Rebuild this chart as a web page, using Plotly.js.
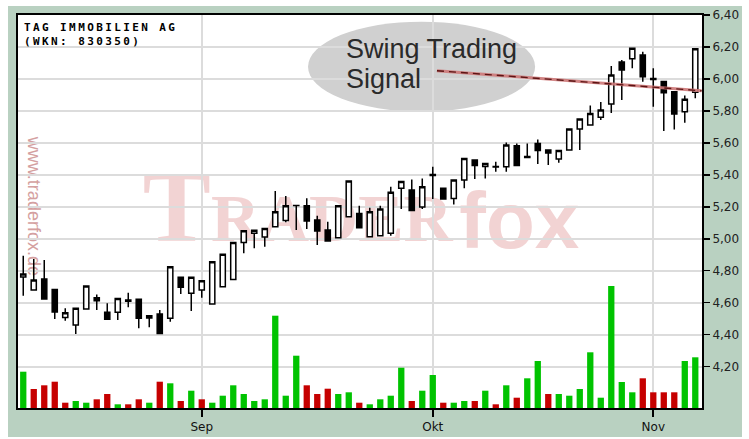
<!DOCTYPE html>
<html><head><meta charset="utf-8">
<script src="https://cdn.plot.ly/plotly-3.0.1.min.js"></script>
<style>html,body{margin:0;padding:0;background:#fff;}#chart{position:absolute;left:8px;top:6px;width:734px;height:431px;}</style>
</head><body><div id="chart"></div>
<script>
const dates = ['2010-08-09','2010-08-10','2010-08-11','2010-08-12','2010-08-13','2010-08-16','2010-08-17','2010-08-18','2010-08-19','2010-08-20',
'2010-08-23','2010-08-24','2010-08-25','2010-08-26','2010-08-27','2010-08-30','2010-08-31','2010-09-01','2010-09-02','2010-09-03',
'2010-09-06','2010-09-07','2010-09-08','2010-09-09','2010-09-10','2010-09-13','2010-09-14','2010-09-15','2010-09-16','2010-09-17',
'2010-09-20','2010-09-21','2010-09-22','2010-09-23','2010-09-24','2010-09-27','2010-09-28','2010-09-29','2010-09-30','2010-10-01',
'2010-10-04','2010-10-05','2010-10-06','2010-10-07','2010-10-08','2010-10-11','2010-10-12','2010-10-13','2010-10-14','2010-10-15',
'2010-10-18','2010-10-19','2010-10-20','2010-10-21','2010-10-22','2010-10-25','2010-10-26','2010-10-27','2010-10-28','2010-10-29',
'2010-11-01','2010-11-02','2010-11-03','2010-11-04','2010-11-05'];
const open = [4.761,4.679,4.748,4.682,4.508,4.460,4.560,4.631,4.540,4.540,
4.617,4.621,4.518,4.529,4.502,4.759,4.659,4.679,4.592,4.700,
4.745,4.976,5.034,5.011,5.075,5.115,5.208,5.207,5.117,5.055,
5.006,5.138,5.159,5.013,5.019,5.034,5.316,5.305,5.199,5.396,
5.316,5.252,5.368,5.493,5.452,5.452,5.451,5.583,5.508,5.596,
5.555,5.499,5.555,5.687,5.712,5.760,5.843,6.106,6.126,6.150,
6.003,5.985,5.920,5.795,5.917];
const high = [4.894,4.873,4.867,4.682,4.565,4.565,4.704,4.652,4.596,4.627,
4.662,4.621,4.518,4.554,4.825,4.759,4.759,4.737,4.856,4.903,
4.976,5.050,5.053,5.065,5.299,5.267,5.209,5.253,5.144,5.107,
5.207,5.361,5.207,5.194,5.207,5.326,5.358,5.371,5.378,5.451,
5.316,5.368,5.503,5.493,5.471,5.482,5.603,5.597,5.597,5.622,
5.555,5.552,5.687,5.749,5.834,5.856,6.081,6.119,6.192,6.171,
6.068,5.985,5.920,5.896,6.189];
const low = [4.644,4.679,4.623,4.498,4.487,4.404,4.560,4.554,4.496,4.491,
4.571,4.440,4.446,4.408,4.481,4.654,4.548,4.631,4.592,4.700,
4.745,4.909,4.940,4.950,5.075,5.103,5.055,5.061,4.961,4.986,
5.006,5.138,5.069,5.013,5.019,5.019,5.186,5.177,5.186,5.249,
5.249,5.214,5.316,5.374,5.378,5.419,5.419,5.458,5.508,5.468,
5.462,5.476,5.555,5.555,5.712,5.743,5.787,5.868,6.067,5.983,
5.826,5.674,5.684,5.726,5.879];
const close = [4.779,4.742,4.623,4.542,4.537,4.565,4.704,4.612,4.496,4.627,
4.609,4.502,4.505,4.408,4.825,4.696,4.759,4.737,4.856,4.903,
4.976,5.050,5.053,5.065,5.169,5.207,5.209,5.111,5.048,4.986,
5.207,5.361,5.069,5.169,5.186,5.291,5.358,5.177,5.326,5.402,
5.249,5.368,5.503,5.458,5.471,5.449,5.587,5.458,5.515,5.552,
5.537,5.552,5.687,5.749,5.784,5.806,6.025,6.056,6.192,6.014,
5.997,5.914,5.781,5.873,6.189];
const volume = [36.3,19,22.7,26.3,5.3,7,5.3,8.7,14,3.7,
3.7,8.7,5.3,26.3,24.7,7,17.3,8.7,5.3,12.3,
22.7,14,7,8.7,92.3,12.3,52.3,22.7,14,19.3,
14,15.7,5.3,3.7,8.7,12.3,40.3,7,17.3,33,
5.3,5.3,7,7,17.3,3.7,22.7,10.3,29.7,47,
14,14,12.3,19,55.7,10.3,122,26,15.7,29.7,
15.7,15.7,15.7,47,50.7];
const monthLabels = ['Sep','Okt','Nov'];
const priceTicks = [4.2,4.4,4.6,4.8,5.0,5.2,5.4,5.6,5.8,6.0,6.2,6.4];
const trendIdx = [39.4, 64.6];
const trendPrice = [6.052, 5.926];

const xIdx = dates.map((d,i)=>i);
const tickIdx = [];
dates.forEach((d,i)=>{ if(i>0 && d.slice(5,7)!==dates[i-1].slice(5,7)) tickIdx.push(i); });
const volColors = close.map((c,i)=> (i===0 || c>=close[i-1]) ? '#00c300' : '#c60000');

const traces = [
 {type:'bar', x:xIdx, y:volume, yaxis:'y2', width:0.6, marker:{color:volColors, line:{width:0}}, hoverinfo:'skip'},
 {type:'candlestick', x:xIdx, open:open, high:high, low:low, close:close, whiskerwidth:0,
  increasing:{line:{color:'#000', width:1.5}, fillcolor:'#ffffff'},
  decreasing:{line:{color:'#000', width:1.5}, fillcolor:'#000000'}},
 {type:'scatter', mode:'lines', x:trendIdx, y:trendPrice, line:{color:'rgba(205,120,120,0.9)', width:3}},
 {type:'scatter', mode:'lines', x:trendIdx, y:trendPrice, line:{color:'#5c1414', width:1.4, dash:'7px,5px'}}
];

const layout = {
 width:734, height:431,
 margin:{l:10, r:40, t:9, b:29},
 paper_bgcolor:'#b9d1c1', plot_bgcolor:'#ffffff',
 separators:',.', showlegend:false,
 xaxis:{type:'linear', range:[-0.5,64.64], tickvals:tickIdx, ticktext:monthLabels,
   ticks:'outside', ticklen:7, tickwidth:2, tickcolor:'#000',
   showgrid:true, gridcolor:'#dcdcdc', gridwidth:2,
   showline:true, linecolor:'#000', linewidth:2, mirror:true, zeroline:false,
   rangeslider:{visible:false}, tickfont:{family:'DejaVu Sans', size:12, color:'#111'}},
 yaxis:{side:'right', range:[3.941,6.4005], tickvals:priceTicks, tickformat:'.2f',
   ticks:'outside', ticklen:6, tickwidth:1.5, tickcolor:'#000',
   showgrid:true, gridcolor:'#dcdcdc', gridwidth:2,
   showline:true, linecolor:'#000', linewidth:2, mirror:true, zeroline:false,
   tickfont:{family:'DejaVu Sans', size:12, color:'#222'}},
 yaxis2:{overlaying:'y', range:[0,393], visible:false},
 shapes:[
  {type:'circle', xref:'paper', yref:'paper', x0:0.424, x1:0.756, y0:0.754, y1:0.983,
   fillcolor:'#d0d0d0', line:{width:0}, layer:'below'},
  {type:'rect', xref:'paper', yref:'paper', x0:0.178, x1:0.640, y0:0.358, y1:0.551,
   fillcolor:'rgba(0,0,0,0)', line:{width:0}, layer:'below',
   label:{text:'<span style="font-size:102px">T</span>RADER', textposition:'middle center',
     font:{family:'Liberation Serif', size:68, color:'#f2d3d3', weight:'bold'}}},
  {type:'rect', xref:'paper', yref:'paper', x0:0.636, x1:0.830, y0:0.400, y1:0.593,
   fillcolor:'rgba(0,0,0,0)', line:{width:0}, layer:'below',
   label:{text:'fox', textposition:'middle center',
     font:{family:'Liberation Sans', size:80, color:'#f2d3d3', weight:'bold'}}},
  {type:'rect', xref:'paper', yref:'paper', x0:0.0146, x1:0.0366, y0:0.326, y1:0.700,
   fillcolor:'rgba(0,0,0,0)', line:{width:0}, layer:'below',
   label:{text:'www.traderfox.de', textposition:'middle center', textangle:90,
     font:{family:'Liberation Sans', size:18, color:'#d4a0a0'}}}
 ],
 annotations:[
  {xref:'paper', yref:'paper', x:0.006, y:0.99, xanchor:'left', yanchor:'top', align:'left', showarrow:false,
   text:'<span style="letter-spacing:2.4px">TAG IMMOBILIEN AG</span><br><span style="letter-spacing:2.4px">(WKN: 830350)</span>',
   font:{family:'DejaVu Sans Mono', size:11, color:'#000', weight:'bold'}},
  {xref:'paper', yref:'paper', x:0.4766, y:0.9135, xanchor:'left', yanchor:'middle', showarrow:false,
   text:'Swing Trading', font:{family:'Liberation Sans', size:27, color:'#2a2a2a'}},
  {xref:'paper', yref:'paper', x:0.4766, y:0.8372, xanchor:'left', yanchor:'middle', showarrow:false,
   text:'Signal', font:{family:'Liberation Sans', size:27, color:'#2a2a2a'}}
 ]
};
Plotly.newPlot('chart', traces, layout, {displayModeBar:false, staticPlot:true});
</script></body></html>
